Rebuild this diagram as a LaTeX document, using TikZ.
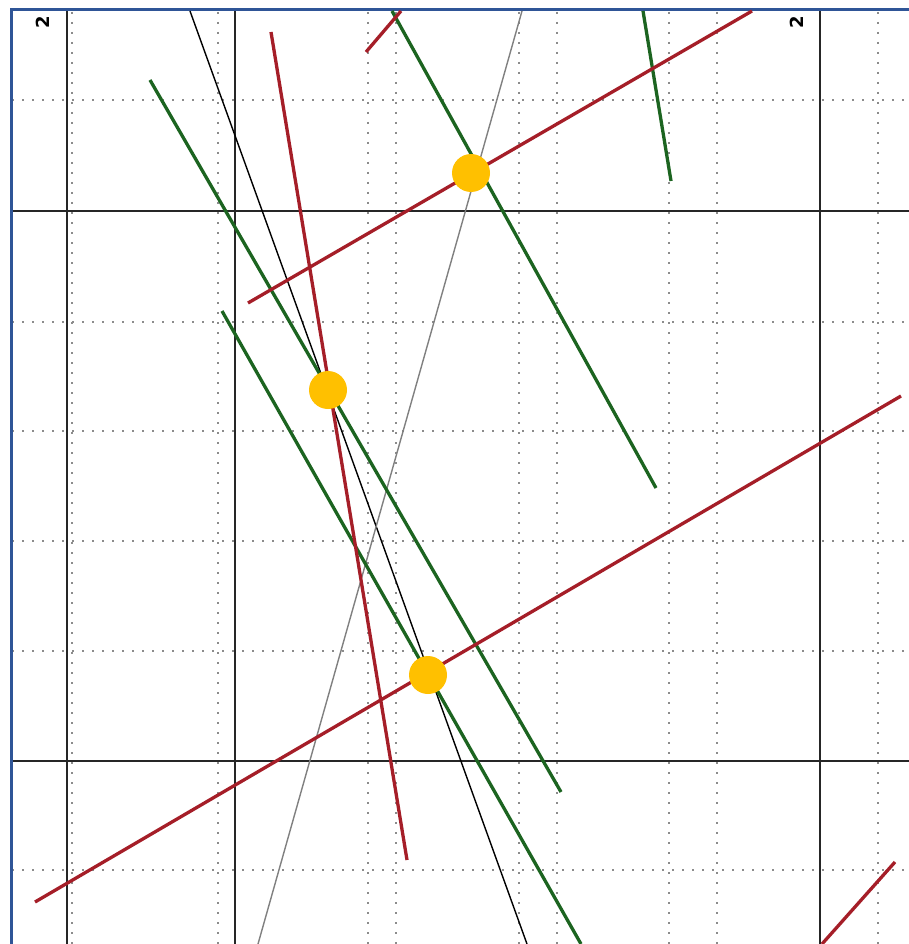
\documentclass[tikz,border=0pt]{standalone}
\usepackage{fontspec}
\setmainfont{DejaVu Sans}
\definecolor{frameblue}{RGB}{47,85,151}
\definecolor{lred}{RGB}{165,30,40}
\definecolor{lgreen}{RGB}{28,100,32}
\definecolor{dotgold}{RGB}{255,192,0}
\definecolor{dotgray}{RGB}{140,140,140}
\begin{document}
\begin{tikzpicture}[x=1pt,y=-1pt,
  gridsolid/.style={draw=black!85,line width=2.2pt},
  griddot/.style={draw=dotgray,line width=1.8pt,dash pattern=on 1.8pt off 8.2pt},
  redline/.style={draw=lred,line width=3.3pt},
  greenline/.style={draw=lgreen,line width=3.3pt},
  thinblack/.style={draw=black,line width=1.4pt},
  thingray/.style={draw=gray,line width=1.4pt},
  golddot/.style={circle,fill=dotgold,draw=none,minimum size=38pt,inner sep=0pt},
  axislabel/.style={font=\fontsize{18}{18}\selectfont\bfseries,rotate=90,inner sep=0pt}]
\useasboundingbox (0,0) rectangle (909,944);
\fill[white] (0,0) rectangle (909,944);
% dotted grid
\foreach \y in {100,322,431,541,651,870}{\draw[griddot] (12,\y) -- (909,\y);}
\foreach \x in {72,218,368,396,519,557,669,717,878}{\draw[griddot] (\x,12) -- (\x,944);}
% solid grid
\foreach \x in {67,235,820}{\draw[gridsolid] (\x,11) -- (\x,944);}
\foreach \y in {211,761}{\draw[gridsolid] (11,\y) -- (909,\y);}
% frame
\draw[frameblue,line width=3pt] (11,944) -- (11,10) -- (909,10);
% labels
\node[axislabel] (l1) at (43,22) {2};
\node[axislabel] (l2) at (797,22) {2};
% endpoints
\coordinate (b1) at (190,11);  \coordinate (b2) at (527,944);
\coordinate (g1) at (522,11);  \coordinate (g2) at (258,944);
\coordinate (r1a) at (366,52);  \coordinate (r1b) at (401,11);
\coordinate (r2a) at (248,303); \coordinate (r2b) at (752,11);
\coordinate (r3a) at (271,32);  \coordinate (r3b) at (407,860);
\coordinate (r4a) at (35,902);  \coordinate (r4b) at (901,396);
\coordinate (r5a) at (822,944); \coordinate (r5b) at (895,862);
\coordinate (e1a) at (150,80);  \coordinate (e1b) at (561,792);
\coordinate (e2a) at (222,311); \coordinate (e2b) at (581,944);
\coordinate (e3a) at (392,11);  \coordinate (e3b) at (656,488);
\coordinate (e4a) at (643,11);  \coordinate (e4b) at (671,181);
% thin lines
\draw[thinblack] (b1) -- (b2);
\draw[thingray] (g1) -- (g2);
% green lines
\draw[greenline] (e1a) -- (e1b);
\draw[greenline] (e2a) -- (e2b);
\draw[greenline] (e3a) -- (e3b);
\draw[greenline] (e4a) -- (e4b);
% red lines
\draw[redline] (r1a) -- (r1b);
\draw[redline] (r2a) -- (r2b);
\draw[redline] (r3a) -- (r3b);
\draw[redline] (r4a) -- (r4b);
\draw[redline] (r5a) -- (r5b);
% dots
\node[golddot] (d1) at (471,173) {};
\node[golddot] (d2) at (328,390) {};
\node[golddot] (d3) at (428,675) {};
\end{tikzpicture}
\end{document}
